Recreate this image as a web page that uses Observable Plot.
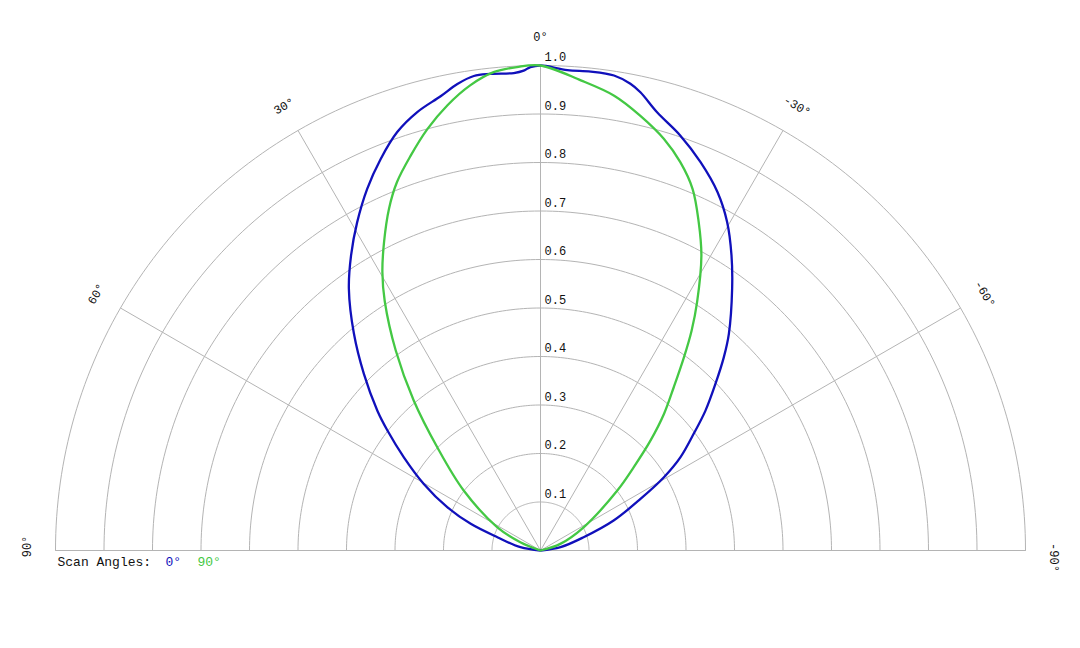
<!DOCTYPE html>
<html>
<head>
<meta charset="utf-8">
<script src="https://cdn.jsdelivr.net/npm/d3@7"></script>
<script src="https://cdn.jsdelivr.net/npm/@observablehq/plot@0.6"></script>
<style>
  html, body { margin: 0; padding: 0; background: #fff; }
  #chart svg { display: block; }
</style>
</head>
<body>
<div id="chart"></div>
<script>
// ---- Data (angle in degrees, positive = left of vertical; r = relative gain) ----
const blueAngles = [-90, -80.6, -72.9, -67.7, -62.7, -59.3, -56.3, -52.7, -49.7, -46.4, -43.5, -41, -36.2, -32.9, -29.6, -26.3, -22.4, -18.6, -14.9, -12.3, -10.9, -8.8, -6, -3.2, 0, 1.2, 2, 3.2, 6, 8, 10.1, 12.4, 15.7, 18.9, 22.2, 25.6, 29.2, 32.7, 36.2, 40.7, 45, 49.4, 51.9, 55.7, 60.3, 65.1, 69.1, 72.9, 80.6, 90];
const blueR      = [0, 0.042, 0.093, 0.163, 0.232, 0.296, 0.347, 0.397, 0.446, 0.498, 0.549, 0.592, 0.669, 0.725, 0.779, 0.824, 0.866, 0.903, 0.935, 0.967, 0.980, 0.991, 0.993, 0.992, 1.0, 0.997, 0.990, 0.986, 0.988, 0.988, 0.977, 0.959, 0.939, 0.912, 0.872, 0.827, 0.775, 0.723, 0.669, 0.590, 0.515, 0.443, 0.401, 0.341, 0.277, 0.212, 0.154, 0.093, 0.042, 0];

const greenAngles = [-76, -71.5, -61.7, -52, -48.2, -45, -42.1, -39.2, -36.6, -34.5, -32.2, -28.6, -25.7, -22.8, -19.8, -16.7, -12.9, -9.2, -4.9, 0, 2.8, 5.6, 8.6, 11.8, 15, 18.2, 21.3, 23.9, 26.9, 29.6, 32, 35.9, 40.2, 45, 52, 61.7, 67.5, 76];
const greenR      = [0, 0.043, 0.101, 0.201, 0.258, 0.321, 0.380, 0.435, 0.496, 0.550, 0.606, 0.693, 0.752, 0.809, 0.851, 0.886, 0.920, 0.950, 0.973, 1.0, 0.998, 0.991, 0.970, 0.938, 0.900, 0.857, 0.815, 0.771, 0.713, 0.660, 0.606, 0.509, 0.405, 0.301, 0.201, 0.101, 0.045, 0];

const rings = [0.1, 0.2, 0.3, 0.4, 0.5, 0.6, 0.7, 0.8, 0.9, 1.0];
const ringLabels = ["0.1", "0.2", "0.3", "0.4", "0.5", "0.6", "0.7", "0.8", "0.9", "1.0"];
const spokes = [-90, -60, -30, 0, 30, 60, 90];
const spokeLabels = ["-90°", "-60°", "-30°", "0°", "30°", "60°", "90°"];
const legendTitle = "Scan Angles:";
const seriesNames = ["0°", "90°"];
const seriesColors = ["#1010bb", "#44c844"];

// ---- helpers ----
const rad = d => d * Math.PI / 180;
const px = (a, r) => -r * Math.sin(rad(a));
const py = (a, r) => r * Math.cos(rad(a));

const blue = blueAngles.map((a, i) => ({a, r: blueR[i]}));
const green = greenAngles.map((a, i) => ({a, r: greenR[i]}));

const ringPts = [];
for (const r of rings) for (let a = -90; a <= 90; a += 1) ringPts.push({ring: r, a, r});

const spokeData = spokes.map((a, i) => ({a, label: spokeLabels[i]}));
const ringData = rings.map((r, i) => ({r, label: ringLabels[i]}));

const font = "'Liberation Mono', 'DejaVu Sans Mono', monospace";
const gridColor = "#b4b4b4";
const LR = 1.058;
const labelOpts = {
  x: d => px(d.a, LR), y: d => py(d.a, LR), text: "label",
  rotate: d => -d.a, fontSize: 12, fill: "#111", textAnchor: "middle", lineAnchor: "middle"
};

const plot = Plot.plot({
  width: 1080,
  height: 648,
  marginLeft: 55,
  marginRight: 55,
  marginTop: 65,
  marginBottom: 98,
  x: {domain: [-1, 1], axis: null},
  y: {domain: [0, 1], axis: null},
  style: {fontFamily: font, background: "#fff"},
  marks: [
    Plot.line(ringPts, {x: d => px(d.a, d.r), y: d => py(d.a, d.r), z: "ring", stroke: gridColor, strokeWidth: 1}),
    Plot.link(spokeData, {x1: 0, y1: 0, x2: d => px(d.a, 1), y2: d => py(d.a, 1), stroke: gridColor, strokeWidth: 1}),
    Plot.text(ringData, {x: 0, y: "r", text: "label", dx: 4, dy: -8, textAnchor: "start", fontSize: 12, fill: "#111"}),
    Plot.text(spokeData, {...labelOpts, filter: d => Math.abs(d.a) < 90}),
    Plot.text(spokeData, {...labelOpts, filter: d => d.a === 90, dy: -4}),
    Plot.text(spokeData, {...labelOpts, filter: d => d.a === -90, dy: 7}),
    Plot.line(blue, {x: d => px(d.a, d.r), y: d => py(d.a, d.r), stroke: seriesColors[0], strokeWidth: 2.3, curve: "catmull-rom"}),
    Plot.line(green, {x: d => px(d.a, d.r), y: d => py(d.a, d.r), stroke: seriesColors[1], strokeWidth: 2.3, curve: "catmull-rom"}),
    Plot.text([legendTitle], {x: -1, y: 0, text: d => d, dx: 2, dy: 11, textAnchor: "start", fontSize: 13, fill: "#111"}),
    Plot.text([seriesNames[0]], {x: -1, y: 0, text: d => d, dx: 110, dy: 11, textAnchor: "start", fontSize: 13, fill: seriesColors[0]}),
    Plot.text([seriesNames[1]], {x: -1, y: 0, text: d => d, dx: 142, dy: 11, textAnchor: "start", fontSize: 13, fill: seriesColors[1]})
  ]
});
document.getElementById("chart").appendChild(plot);
</script>
</body>
</html>
